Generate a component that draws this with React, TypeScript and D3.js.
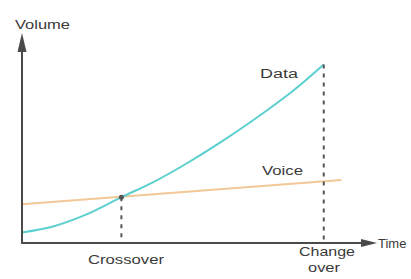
import React from "react";
import * as d3 from "d3";

const dataTime = [0, 9, 18, 28, 37, 46, 56, 66, 76, 85];
const dataVolume = [5, 8, 13.5, 21.8, 29, 37.5, 48, 59.5, 72, 85];
const voiceTime = [0, 90];
const voiceVolume = [18.5, 30];
const markers = [
  { time: 28, volume: 21.8, label: ["Crossover"] },
  { time: 85, volume: 85, label: ["Change", "over"] },
];

const W = 411;
const H = 279;

export default function App() {
  const x = d3.scaleLinear().domain([0, 100]).range([22, 377]);
  const y = d3.scaleLinear().domain([0, 100]).range([243, 33]);

  const line = d3
    .line<[number, number]>()
    .x((d) => x(d[0]))
    .y((d) => y(d[1]))
    .curve(d3.curveCatmullRom);

  const dataPts = dataTime.map((t, i) => [t, dataVolume[i]] as [number, number]);
  const voicePts = voiceTime.map((t, i) => [t, voiceVolume[i]] as [number, number]);

  const axisColor = "#4a4a4a";
  const textColor = "#3a3a3a";
  const font = "'Liberation Sans', Arial, sans-serif";
  const fs = 12.5;

  const x0 = x(0);
  const y0 = y(0);
  const yTop = y(100);
  const xEnd = x(100);

  const labelLayout = [
    [{ x: 126, y: 264, w: 76 }],
    [
      { x: 327, y: 256, w: 56 },
      { x: 324, y: 272, w: 32 },
    ],
  ];

  return (
    <svg
      width={W}
      height={H}
      style={{ position: "absolute", left: 0, top: 0, background: "#fff" }}
      fontFamily={font}
    >
      <rect width={W} height={H} fill="#fff" />
      <path d={line(voicePts) || ""} fill="none" stroke="#f2c896" strokeWidth={2} />
      <path d={line(dataPts) || ""} fill="none" stroke="#5ccfcf" strokeWidth={2} />
      {markers.map((m, i) => (
        <line
          key={i}
          x1={x(m.time)}
          x2={x(m.time)}
          y1={y(m.volume)}
          y2={y0}
          stroke="#555"
          strokeWidth={2}
          strokeDasharray="4,5"
        />
      ))}
      <circle cx={x(markers[0].time)} cy={y(markers[0].volume)} r={2.5} fill="#555" />
      <line x1={x0} x2={x0} y1={y0} y2={yTop + 14} stroke={axisColor} strokeWidth={2} />
      <path
        d={`M${x0},${yTop} L${x0 - 4.5},${yTop + 19} L${x0 + 4.5},${yTop + 19} Z`}
        fill={axisColor}
      />
      <line x1={x0 - 1} x2={xEnd - 10} y1={y0} y2={y0} stroke={axisColor} strokeWidth={2} />
      <path
        d={`M${xEnd},${y0} L${xEnd - 16},${y0 - 4} L${xEnd - 16},${y0 + 4} Z`}
        fill={axisColor}
      />
      <text x={15} y={29} fontSize={fs} fill={textColor} textLength={55} lengthAdjust="spacingAndGlyphs">
        Volume
      </text>
      <text x={xEnd + 1} y={y0 + 4.5} fontSize={13} fill={textColor}>
        Time
      </text>
      <text x={260} y={78} fontSize={fs} fill={textColor} textLength={38} lengthAdjust="spacingAndGlyphs">
        Data
      </text>
      <text x={262} y={175} fontSize={fs} fill={textColor} textLength={41} lengthAdjust="spacingAndGlyphs">
        Voice
      </text>
      {markers.map((m, i) =>
        m.label.map((s, j) => {
          const L = labelLayout[i][j];
          return (
            <text
              key={`${i}-${j}`}
              x={L.x - L.w / 2}
              y={L.y}
              fontSize={fs}
              fill={textColor}
              textLength={L.w}
              lengthAdjust="spacingAndGlyphs"
            >
              {s}
            </text>
          );
        })
      )}
    </svg>
  );
}
